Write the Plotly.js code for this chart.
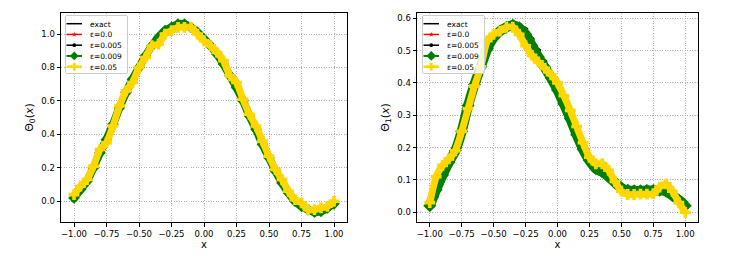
<!DOCTYPE html>
<html>
<head>
<meta charset="utf-8">
<script src="https://cdn.plot.ly/plotly-3.0.1.min.js"></script>
<style>html,body{margin:0;padding:0;background:#fff;}#chart{width:731px;height:256px;}</style>
</head>
<body>
<div id="chart"></div>
<script>
// x grid shared by both panels
const xVals = [-1.00,-0.95,-0.90,-0.85,-0.80,-0.75,-0.70,-0.65,-0.60,-0.55,-0.50,-0.45,-0.40,-0.35,-0.30,-0.25,-0.20,-0.15,-0.10,-0.05,0.00,0.05,0.10,0.15,0.20,0.25,0.30,0.35,0.40,0.45,0.50,0.55,0.60,0.65,0.70,0.75,0.80,0.85,0.90,0.95,1.00];

// Left panel: Theta_0
const theta0Exact = [0.02,0.07,0.12,0.20,0.29,0.37,0.46,0.56,0.65,0.73,0.80,0.87,0.93,0.98,1.02,1.04,1.06,1.06,1.04,1.01,0.97,0.93,0.88,0.82,0.75,0.68,0.60,0.51,0.43,0.34,0.26,0.18,0.11,0.05,0.00,-0.03,-0.05,-0.065,-0.06,-0.04,-0.015];
const theta0Eps0 = [0.02,0.07,0.12,0.20,0.29,0.37,0.46,0.56,0.65,0.73,0.80,0.87,0.93,0.98,1.02,1.04,1.06,1.06,1.04,1.01,0.97,0.93,0.88,0.82,0.75,0.68,0.60,0.51,0.43,0.34,0.26,0.18,0.11,0.05,0.00,-0.03,-0.05,-0.065,-0.06,-0.04,-0.015];
const theta0Eps005 = [0.02,0.07,0.12,0.20,0.29,0.37,0.46,0.56,0.65,0.73,0.80,0.87,0.93,0.98,1.02,1.04,1.06,1.06,1.04,1.01,0.97,0.93,0.88,0.82,0.75,0.68,0.60,0.51,0.43,0.34,0.26,0.18,0.11,0.05,0.00,-0.03,-0.05,-0.065,-0.06,-0.04,-0.015];
const theta0Eps009 = [0.02,0.07,0.12,0.20,0.29,0.37,0.46,0.56,0.65,0.73,0.80,0.87,0.93,0.98,1.02,1.04,1.06,1.06,1.04,1.01,0.97,0.93,0.88,0.82,0.75,0.68,0.60,0.51,0.43,0.34,0.26,0.18,0.11,0.05,0.00,-0.03,-0.05,-0.065,-0.06,-0.04,-0.015];
const theta0Eps05 = [0.04,0.09,0.13,0.21,0.31,0.35,0.45,0.57,0.66,0.71,0.80,0.86,0.93,0.94,1.00,1.02,1.04,1.04,1.04,1.00,0.96,0.93,0.89,0.84,0.75,0.71,0.61,0.52,0.45,0.36,0.27,0.19,0.13,0.06,0.01,-0.01,-0.05,-0.05,-0.04,-0.03,0.00];

// Right panel: Theta_1
const theta1Exact = [0.02,0.05,0.10,0.15,0.20,0.26,0.34,0.40,0.455,0.505,0.54,0.565,0.578,0.585,0.58,0.565,0.535,0.50,0.465,0.43,0.39,0.345,0.30,0.25,0.205,0.165,0.14,0.125,0.11,0.095,0.083,0.077,0.076,0.076,0.077,0.077,0.076,0.07,0.058,0.042,0.025];
const theta1Eps0 = [0.02,0.05,0.10,0.15,0.20,0.26,0.34,0.40,0.455,0.505,0.54,0.565,0.578,0.585,0.58,0.565,0.535,0.50,0.465,0.43,0.39,0.345,0.30,0.25,0.205,0.165,0.14,0.125,0.11,0.095,0.083,0.077,0.076,0.076,0.077,0.077,0.076,0.07,0.058,0.042,0.025];
const theta1Eps005 = [0.02,0.05,0.10,0.15,0.20,0.26,0.34,0.40,0.455,0.505,0.54,0.565,0.578,0.585,0.58,0.565,0.535,0.50,0.465,0.43,0.39,0.345,0.30,0.25,0.205,0.165,0.14,0.125,0.11,0.095,0.083,0.077,0.076,0.076,0.077,0.077,0.076,0.07,0.058,0.042,0.025];
const theta1Eps009 = [0.02,0.07,0.115,0.155,0.19,0.25,0.33,0.395,0.45,0.505,0.54,0.56,0.572,0.578,0.57,0.55,0.515,0.48,0.448,0.415,0.378,0.335,0.29,0.24,0.195,0.16,0.135,0.125,0.11,0.092,0.075,0.068,0.066,0.066,0.067,0.067,0.068,0.065,0.052,0.038,0.02];
const theta1Eps05 = [0.03,0.11,0.145,0.165,0.19,0.25,0.32,0.39,0.45,0.53,0.55,0.56,0.572,0.572,0.55,0.515,0.485,0.465,0.445,0.425,0.40,0.36,0.315,0.265,0.215,0.17,0.15,0.15,0.13,0.095,0.065,0.055,0.055,0.056,0.056,0.058,0.078,0.088,0.065,0.03,0.00];

const seriesNames = ['exact','ε=0.0','ε=0.005','ε=0.009','ε=0.05'];
const xTicks = [-1.00,-0.75,-0.50,-0.25,0.00,0.25,0.50,0.75,1.00];

const FONT = 'DejaVu Sans, sans-serif';
function styleSet(greenW, greenM) {
  return [
    {mode:'lines', line:{color:'#000000', width:1.5}},
    {mode:'lines+markers', line:{color:'#ff0000', width:1.5}, marker:{symbol:'star', size:5, color:'#ff0000'}},
    {mode:'lines+markers', line:{color:'#000000', width:1.5}, marker:{symbol:'circle', size:5, color:'#000000'}},
    {mode:'lines+markers', line:{color:'#008000', width:greenW}, marker:{symbol:'diamond', size:greenM, color:'#008000'}},
    {mode:'lines+markers', line:{color:'#ffd700', width:7}, marker:{symbol:'cross', size:9, color:'#ffd700'}}
  ];
}
const leftStyles = styleSet(8, 9);
const rightStyles = styleSet(10, 10);

function mk(ys, s, i, xa, ya, leg) {
  const t = {x:xVals, y:ys, type:'scatter', mode:s.mode, name:seriesNames[i], xaxis:xa, yaxis:ya, legend:leg,
             line:Object.assign({shape:'spline', smoothing:0.6}, s.line)};
  if (s.marker) t.marker = s.marker;
  return t;
}

const leftSeries = [theta0Exact, theta0Eps0, theta0Eps005, theta0Eps009, theta0Eps05];
const rightSeries = [theta1Exact, theta1Eps0, theta1Eps005, theta1Eps009, theta1Eps05];
const data = [];
leftSeries.forEach((ys,i)=>data.push(mk(ys,leftStyles[i],i,'x','y','legend')));
rightSeries.forEach((ys,i)=>data.push(mk(ys,rightStyles[i],i,'x2','y2','legend2')));

function axisBase(extra) {
  return Object.assign({
    showline:true, mirror:true, linecolor:'#000', linewidth:1,
    ticks:'outside', ticklen:3.5, tickwidth:1, tickcolor:'#000',
    showgrid:true, gridcolor:'#b0b0b0', griddash:'1px,1.5px', gridwidth:1,
    zeroline:false, tickfont:{family:FONT, size:8.5, color:'#000'},
    automargin:false
  }, extra);
}

const legendBase = {
  bgcolor:'rgba(255,255,255,0.8)', bordercolor:'#cccccc', borderwidth:1,
  font:{family:FONT, size:7.5, color:'#000'}, xanchor:'left', yanchor:'top',
  itemwidth:30, tracegroupgap:0
};

const layout = {
  width:731, height:256,
  margin:{l:0, r:0, t:0, b:0},
  paper_bgcolor:'#fff', plot_bgcolor:'#fff',
  font:{family:FONT, color:'#000'},
  xaxis: axisBase({domain:[61/731, 347/731], anchor:'y', range:[-1.1,1.1], tickvals:xTicks, tickformat:'.2f',
    title:{text:'x', font:{family:FONT, size:10}, standoff:1}}),
  yaxis: axisBase({domain:[34/256, 243/256], anchor:'x', range:[-0.124,1.126], dtick:0.2, tick0:0, tickformat:'.1f',
    title:{text:'Θ<sub>0</sub>(<i>x</i>)', font:{family:FONT, size:11}, standoff:5}}),
  xaxis2: axisBase({domain:[417/731, 698/731], anchor:'y2', range:[-1.1,1.1], tickvals:xTicks, tickformat:'.2f',
    title:{text:'x', font:{family:FONT, size:10}, standoff:1}}),
  yaxis2: axisBase({domain:[34/256, 243/256], anchor:'x2', range:[-0.030,0.616], dtick:0.1, tick0:0, tickformat:'.1f',
    title:{text:'Θ<sub>1</sub>(<i>x</i>)', font:{family:FONT, size:11}, standoff:5}}),
  legend: Object.assign({x:65/731, y:1-15/256}, legendBase),
  legend2: Object.assign({x:422/731, y:1-15/256}, legendBase),
  showlegend:true
};

// compact the legends (matplotlib-like spacing)
function compactLegends(gd) {
  const SP = 10.75, FIRST = 8.7, LINE0 = 1.5, LINELEN = 15.5, TEXTX = 25, BOXW = 62, BOXH = 58;
  const lineW = [1.5, 1.5, 1.5, 2, 2.5];
  const seen = new Set();
  gd.querySelectorAll('rect.bg').forEach(bg => {
    const leg = bg.parentNode;
    if (!leg || seen.has(leg)) return;
    const traces = leg.querySelectorAll('g.traces');
    if (!traces.length) return;
    seen.add(leg);
    traces.forEach((tr, i) => {
      tr.setAttribute('transform', 'translate(0,' + (FIRST + i * SP) + ')');
      tr.querySelectorAll('path.js-line').forEach(p => {
        p.setAttribute('d', 'M' + LINE0 + ',0h' + LINELEN);
        p.style.strokeWidth = lineW[i] + 'px';
      });
      tr.querySelectorAll('path.scatterpts').forEach(p => {
        p.setAttribute('transform', 'translate(' + (LINE0 + LINELEN / 2) + ',0) scale(0.75)');
      });
      tr.querySelectorAll('text').forEach(t => {
        t.setAttribute('x', TEXTX);
        t.setAttribute('text-anchor', 'start');
        t.querySelectorAll('tspan[x]').forEach(s => s.setAttribute('x', TEXTX));
      });
    });
    bg.setAttribute('width', BOXW);
    bg.setAttribute('height', BOXH);
    bg.setAttribute('rx', 2);
    bg.setAttribute('ry', 2);
  });
}

const gdEl = document.getElementById('chart');
Plotly.newPlot(gdEl, data, layout, {staticPlot:true, displayModeBar:false}).then(gd => {
  compactLegends(gd);
  setTimeout(() => compactLegends(gd), 30);
  setTimeout(() => compactLegends(gd), 200);
});
gdEl.on && gdEl.on('plotly_afterplot', () => compactLegends(gdEl));
</script>
</body>
</html>
